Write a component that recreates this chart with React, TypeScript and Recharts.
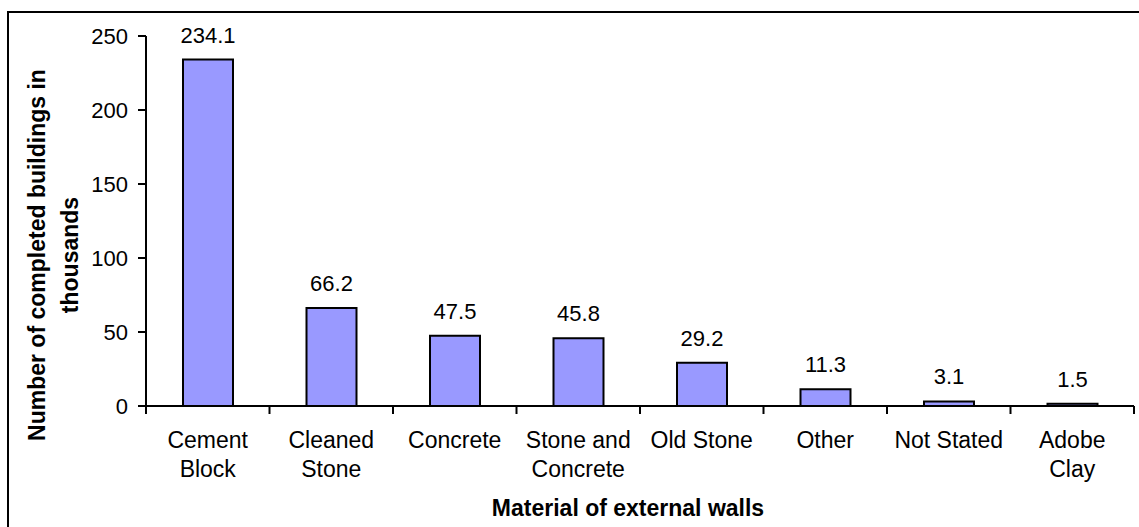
import React from "react";
import { BarChart, Bar, XAxis, YAxis, LabelList, Label } from "recharts";

const categories = [
  "Cement\nBlock",
  "Cleaned\nStone",
  "Concrete",
  "Stone and\nConcrete",
  "Old Stone",
  "Other",
  "Not Stated",
  "Adobe\nClay",
];
const buildings = [234.1, 66.2, 47.5, 45.8, 29.2, 11.3, 3.1, 1.5];
const yTicks = [0, 50, 100, 150, 200, 250];

const data = categories.map((name, i) => ({ name, value: buildings[i] }));

const W = 1139;
const H = 527;
const LEFT = 146;
const RIGHT = 5;
const BAND = (W - LEFT - RIGHT) / categories.length;
const FONT = "'Liberation Sans', Arial, sans-serif";

const CategoryTick = (props: any) => {
  const { x, y, payload, index } = props;
  const lines = String(payload.value).split("\n");
  const isLast = index === categories.length - 1;
  return (
    <g>
      <line x1={x - BAND / 2} y1={y} x2={x - BAND / 2} y2={y + 8} stroke="#000" strokeWidth={2} />
      {isLast && (
        <line x1={x + BAND / 2} y1={y} x2={x + BAND / 2} y2={y + 8} stroke="#000" strokeWidth={2} />
      )}
      <text x={x} y={y + 42} textAnchor="middle" fill="#000" fontSize={23} fontFamily={FONT}>
        {lines.map((l, i) => (
          <tspan key={i} x={x} dy={i === 0 ? 0 : 29}>
            {l}
          </tspan>
        ))}
      </text>
    </g>
  );
};

const YTitle = () => (
  <g fontFamily={FONT} fontSize={23} fontWeight="bold" fill="#000">
    <text transform="translate(45,255) rotate(-90)" textAnchor="middle">
      Number of completed buildings in
    </text>
    <text transform="translate(78,255) rotate(-90)" textAnchor="middle">
      thousands
    </text>
  </g>
);

const XTitle = () => (
  <text x={628} y={516} textAnchor="middle" fontFamily={FONT} fontSize={23} fontWeight="bold" fill="#000">
    Material of external walls
  </text>
);

export default function App() {
  return (
    <div style={{ position: "relative", width: W, height: H, background: "#fff" }}>
      <style>{"body{margin:0}"}</style>
      <div
        style={{
          position: "absolute",
          left: 7,
          top: 11,
          width: W,
          height: H,
          borderLeft: "2px solid #000",
          borderTop: "2px solid #000",
        }}
      />
      <div style={{ position: "absolute", left: 0, top: 0 }}>
        <BarChart
          width={W}
          height={H}
          data={data}
          margin={{ top: 36, right: RIGHT, bottom: 0, left: 0 }}
          barSize={50}
        >
          <XAxis
            dataKey="name"
            height={121}
            interval={0}
            tickLine={false}
            tickSize={0}
            tickMargin={0}
            axisLine={{ stroke: "#000", strokeWidth: 2 }}
            tick={<CategoryTick />}
          >
            <Label content={<XTitle />} />
          </XAxis>
          <YAxis
            width={LEFT}
            domain={[0, 250]}
            ticks={yTicks}
            interval={0}
            tickSize={8}
            tickMargin={10}
            axisLine={{ stroke: "#000", strokeWidth: 2 }}
            tickLine={{ stroke: "#000", strokeWidth: 2 }}
            tick={{ fill: "#000", fontSize: 22, fontFamily: FONT }}
          >
            <Label content={<YTitle />} />
          </YAxis>
          <Bar dataKey="value" fill="#9999FF" stroke="#000" strokeWidth={2} isAnimationActive={false}>
            <LabelList
              dataKey="value"
              position="top"
              offset={17}
              fill="#000"
              fontSize={22}
              fontFamily={FONT}
              formatter={(v: any) => Number(v).toFixed(1)}
            />
          </Bar>
        </BarChart>
      </div>
    </div>
  );
}
